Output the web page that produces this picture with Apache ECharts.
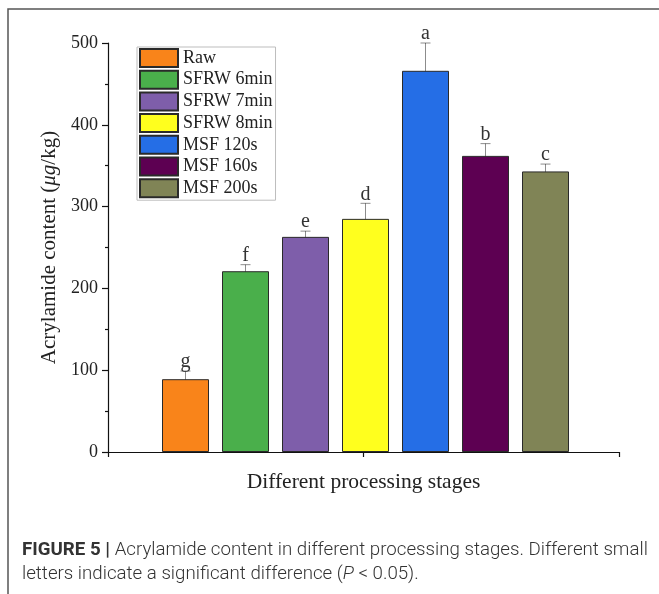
<!DOCTYPE html>
<html>
<head>
<meta charset="utf-8">
<script src="https://cdn.jsdelivr.net/npm/echarts@6/dist/echarts.min.js"></script>
<style>html,body{margin:0;padding:0;background:#fff;}#c{width:659px;height:594px;}</style>
</head>
<body>
<div id="c"></div>
<script>
var categories = ['Raw', 'SFRW 6min', 'SFRW 7min', 'SFRW 8min', 'MSF 120s', 'MSF 160s', 'MSF 200s'];
var means = [89, 221, 263, 285, 466, 362, 343];
var errors = [10, 8, 7, 19, 34, 15, 9];
var letters = ['g', 'f', 'e', 'd', 'a', 'b', 'c'];
var colors = ['#F9841A', '#4AAF4B', '#7E5EAA', '#FFFF1E', '#256EE6', '#5D0052', '#808456'];
var yTicks = [0, 100, 200, 300, 400, 500];

var chart = echarts.init(document.getElementById('c'));
var serif = 'Liberation Serif';

var series = categories.map(function (name, i) {
  var d = categories.map(function (_, j) { return j === i ? means[i] : '-'; });
  return {
    name: name, type: 'bar', xAxisIndex: 1, yAxisIndex: 1, stack: 'all',
    data: d, barWidth: 47,
    itemStyle: { color: colors[i], borderColor: '#2a2a2a', borderWidth: 1 },
    emphasis: { disabled: true }, animation: false
  };
});

series.push({
  type: 'custom', xAxisIndex: 1, yAxisIndex: 1, animation: false, silent: true,
  data: categories.map(function (_, i) { return [i, means[i], errors[i], letters[i]]; }),
  encode: { x: 0, y: 1 },
  renderItem: function (params, api) {
    var x = api.value(0), m = api.value(1), e = api.value(2);
    var top = api.coord([x, m + e]);
    var bot = api.coord([x, m - e]);
    var c = 'rgba(0,0,0,0.45)';
    var hw = 5;
    return {
      type: 'group',
      children: [
        { type: 'line', shape: { x1: top[0], y1: top[1], x2: bot[0], y2: bot[1] }, style: { stroke: c, lineWidth: 1 } },
        { type: 'line', shape: { x1: top[0] - hw, y1: top[1], x2: top[0] + hw, y2: top[1] }, style: { stroke: c, lineWidth: 1 } },
        { type: 'line', shape: { x1: bot[0] - hw, y1: bot[1], x2: bot[0] + hw, y2: bot[1] }, style: { stroke: c, lineWidth: 1 } },
        { type: 'text', style: { text: letters[params.dataIndex], x: top[0], y: top[1] - 9, align: 'center', verticalAlign: 'middle', font: '20px "Liberation Serif"', fill: '#333' } }
      ]
    };
  }
});

var option = {
  animation: false,
  backgroundColor: '#fff',
  grid: [
    { left: 108, right: 40, top: 43, bottom: 142 },
    { left: 155.5, right: 83.5, top: 43, bottom: 142 }
  ],
  xAxis: [
    {
      gridIndex: 0, type: 'value', min: 0, max: 2, interval: 1,
      axisLine: { show: true, onZero: false, lineStyle: { color: '#111', width: 1.2 } },
      axisTick: { show: true, inside: false, length: 5, lineStyle: { color: '#111', width: 1.2 } },
      axisLabel: { show: false }, splitLine: { show: false },
      name: 'Different processing stages', nameLocation: 'middle', nameGap: 19,
      nameTextStyle: { fontFamily: serif, fontSize: 21.5, color: '#222', verticalAlign: 'top' }
    },
    { gridIndex: 1, type: 'category', data: categories, show: false }
  ],
  yAxis: [
    {
      gridIndex: 0, type: 'value', min: yTicks[0], max: yTicks[yTicks.length - 1], interval: 100,
      axisLine: { show: true, lineStyle: { color: '#111', width: 1.2 } },
      axisTick: { show: true, inside: false, length: 6, lineStyle: { color: '#111', width: 1.2 } },
      minorTick: { show: true, splitNumber: 2, length: 3, lineStyle: { color: '#111', width: 1.2 } },
      splitLine: { show: false },
      axisLabel: { fontFamily: serif, fontSize: 18, color: '#222', margin: 10 },
      name: '{n|Acrylamide content (}{i|μg}{n|/kg)}', nameLocation: 'middle', nameGap: 40, nameRotate: 90,
      nameTextStyle: { rich: {
        n: { fontFamily: serif, fontSize: 21, color: '#222' },
        i: { fontFamily: serif, fontSize: 21, color: '#222', fontStyle: 'italic' }
      } }
    },
    { gridIndex: 1, type: 'value', min: 0, max: 500, show: false }
  ],
  legend: {
    orient: 'vertical', left: 137, top: 47,
    data: categories.map(function (n) { return { name: n, icon: 'rect' }; }),
    itemWidth: 38, itemHeight: 18, itemGap: 1.7,
    padding: [1, 3, 2, 2],
    borderColor: '#bdbdbd', borderWidth: 1,
    textStyle: { fontFamily: serif, fontSize: 18, color: '#222', lineHeight: 18 },
    selectedMode: false
  },
  graphic: [
    { type: 'rect', shape: { x: 8, y: 9, width: 700, height: 700 }, style: { fill: 'none', stroke: '#555', lineWidth: 1.5 }, silent: true },
    {
      type: 'text', left: 22, top: 541,
      style: {
        text: '{b|FIGURE 5 | }{t|Acrylamide content in different processing stages. Different small}\n{t|letters indicate a significant difference (}{it|P}{t| < 0.05).}',
        rich: {
          b: { fontFamily: 'Roboto', fontWeight: 'bold', fontSize: 18.7, fill: '#333', lineHeight: 23.5 },
          t: { fontFamily: 'Roboto', fontWeight: 300, fontSize: 18.7, fill: '#333', lineHeight: 23.5 },
          it: { fontFamily: 'Roboto', fontWeight: 300, fontStyle: 'italic', fontSize: 18.7, fill: '#333', lineHeight: 23.5 }
        }
      }
    }
  ],
  series: series
};
chart.setOption(option);
</script>
</body>
</html>
